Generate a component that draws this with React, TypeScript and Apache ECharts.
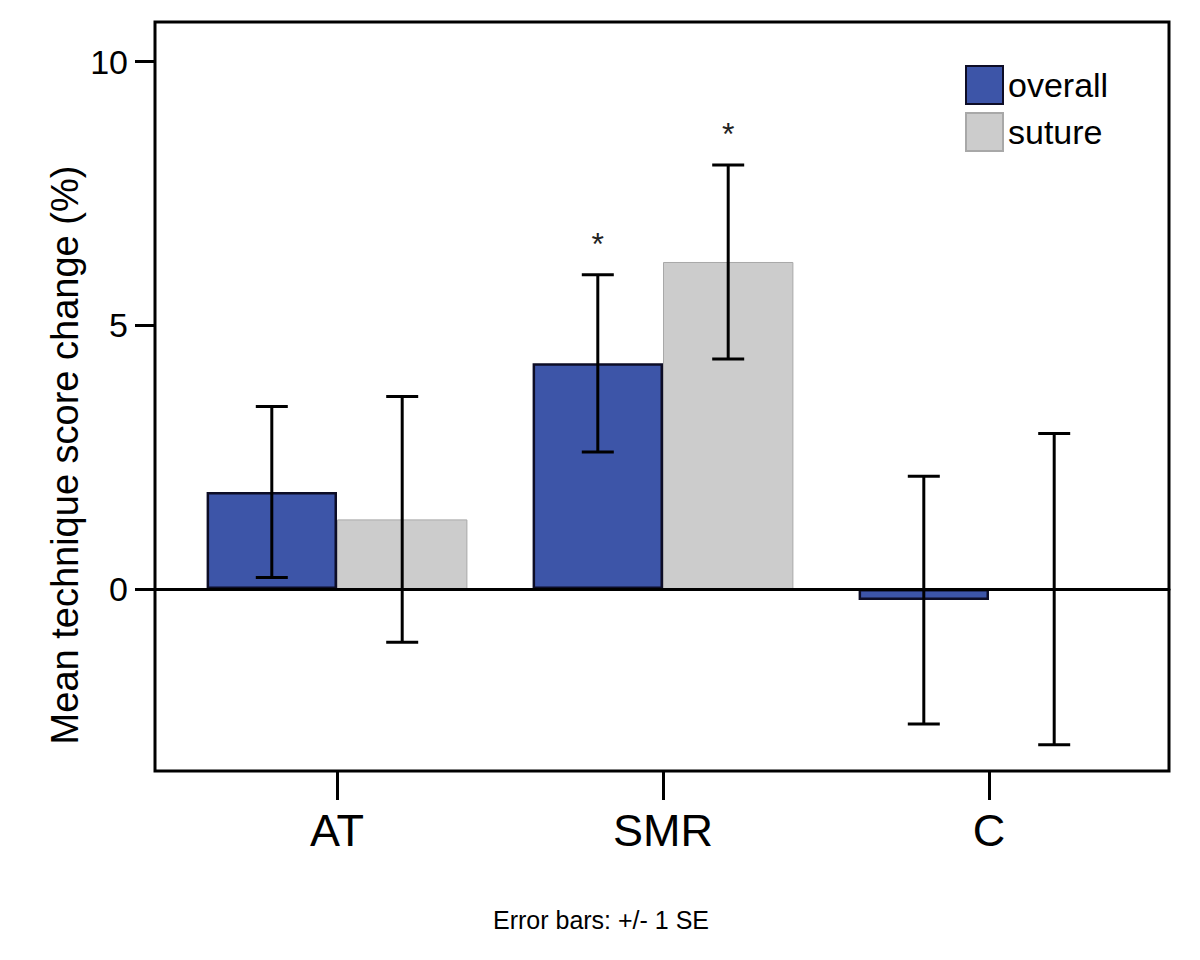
import React, { useEffect, useRef } from "react";
import * as echarts from "echarts";

const categories = ["AT", "SMR", "C"];
const overallMean = [1.84, 4.28, -0.21];
const overallSE = [1.62, 1.68, 2.35];
const sutureMean = [1.32, 6.2, 0.0];
const sutureSE = [2.33, 1.84, 2.95];
const overallSig = [0, 1, 0];
const sutureSig = [0, 1, 0];
const yTicks = [0, 5, 10];
const yMin = -3.45;
const yMax = 10.75;
const legendNames = ["overall", "suture"];
const yTitle = "Mean technique score change (%)";
const footnote = "Error bars: +/- 1 SE";

const FONT = "Liberation Sans, Arial, sans-serif";

function errorRenderer(side: number) {
  return (params: any, api: any) => {
    const cat = api.value(0);
    const mean = api.value(1);
    const se = api.value(2);
    const sig = api.value(3);
    const band = api.size([1, 0])[0];
    const x = api.coord([cat, 0])[0] + side * band * 0.2;
    const yTop = api.coord([cat, mean + se])[1];
    const yBot = api.coord([cat, mean - se])[1];
    const half = 16;
    const style = { stroke: "#000", lineWidth: 3 };
    const children: any[] = [
      { type: "line", shape: { x1: x, y1: yTop, x2: x, y2: yBot }, style },
      { type: "line", shape: { x1: x - half, y1: yTop, x2: x + half, y2: yTop }, style },
      { type: "line", shape: { x1: x - half, y1: yBot, x2: x + half, y2: yBot }, style },
    ];
    if (sig) {
      children.push({
        type: "text",
        style: {
          text: "*",
          x,
          y: yTop - 31,
          fill: "#222",
          font: `32px ${FONT}`,
          textAlign: "center",
          textVerticalAlign: "middle",
        },
      });
    }
    return { type: "group", children };
  };
}

export default function App() {
  const ref = useRef<HTMLDivElement>(null);
  useEffect(() => {
    document.body.style.margin = "0";
    const chart = echarts.init(ref.current!, null, { renderer: "svg" });
    const option: any = {
      animation: false,
      backgroundColor: "#fff",
      textStyle: { fontFamily: FONT },
      grid: [
        {
          left: 155,
          top: 22,
          right: 31,
          bottom: 189,
          show: true,
          borderColor: "#000",
          borderWidth: 3,
          backgroundColor: "transparent",
        },
        { left: 174, top: 22, right: 48, bottom: 189 },
      ],
      xAxis: [
        {
          gridIndex: 0,
          type: "value",
          min: 0,
          max: 1,
          z: 10,
          axisLine: { show: true, onZero: true, lineStyle: { color: "#000", width: 3 } },
          axisTick: { show: false },
          axisLabel: { show: false },
          splitLine: { show: false },
        },
        {
          gridIndex: 1,
          type: "category",
          data: categories,
          position: "bottom",
          axisLine: { show: false, onZero: false },
          axisTick: { show: true, alignWithLabel: true, length: 29, lineStyle: { color: "#000", width: 3 } },
          axisLabel: { color: "#000", fontSize: 45, margin: 37, fontFamily: FONT },
          splitLine: { show: false },
        },
      ],
      yAxis: [
        {
          gridIndex: 0,
          type: "value",
          min: yMin,
          max: yMax,
          axisLine: { show: false },
          axisTick: { show: true, customValues: yTicks, length: 20, lineStyle: { color: "#000", width: 3 } },
          axisLabel: { customValues: yTicks, color: "#000", fontSize: 34, margin: 27, fontFamily: FONT },
          splitLine: { show: false },
        },
        {
          gridIndex: 1,
          type: "value",
          min: yMin,
          max: yMax,
          show: false,
          splitLine: { show: false },
        },
      ],
      legend: {
        data: legendNames,
        orient: "vertical",
        left: 965,
        top: 65,
        padding: 0,
        itemWidth: 37,
        itemHeight: 38,
        itemGap: 7,
        icon: "rect",
        textStyle: { color: "#000", fontSize: 34, fontFamily: FONT },
      },
      series: [
        {
          name: legendNames[0],
          type: "bar",
          xAxisIndex: 1,
          yAxisIndex: 1,
          data: overallMean,
          barWidth: "40%",
          barGap: "0%",
          itemStyle: { color: "#3d55a8", borderColor: "#0d0d26", borderWidth: 2.5 },
        },
        {
          name: legendNames[1],
          type: "bar",
          xAxisIndex: 1,
          yAxisIndex: 1,
          data: sutureMean,
          barWidth: "40%",
          barGap: "0%",
          itemStyle: { color: "#cccccc", borderColor: "#a8a8a8", borderWidth: 1 },
        },
        {
          name: "overall error",
          type: "custom",
          xAxisIndex: 1,
          yAxisIndex: 1,
          z: 12,
          renderItem: errorRenderer(-1),
          data: categories.map((_, i) => [i, overallMean[i], overallSE[i], overallSig[i]]),
        },
        {
          name: "suture error",
          type: "custom",
          xAxisIndex: 1,
          yAxisIndex: 1,
          z: 12,
          renderItem: errorRenderer(1),
          data: categories.map((_, i) => [i, sutureMean[i], sutureSE[i], sutureSig[i]]),
        },
      ],
      graphic: [
        {
          type: "text",
          x: 65,
          y: 455,
          rotation: Math.PI / 2,
          style: {
            text: yTitle,
            fill: "#000",
            font: `38px ${FONT}`,
            textAlign: "center",
            textVerticalAlign: "middle",
          },
        },
        {
          type: "text",
          x: 601,
          y: 920,
          style: {
            text: footnote,
            fill: "#000",
            font: `25px ${FONT}`,
            textAlign: "center",
            textVerticalAlign: "middle",
          },
        },
      ],
    };
    chart.setOption(option);
    return () => chart.dispose();
  }, []);
  return <div ref={ref} style={{ width: 1200, height: 960 }} />;
}
